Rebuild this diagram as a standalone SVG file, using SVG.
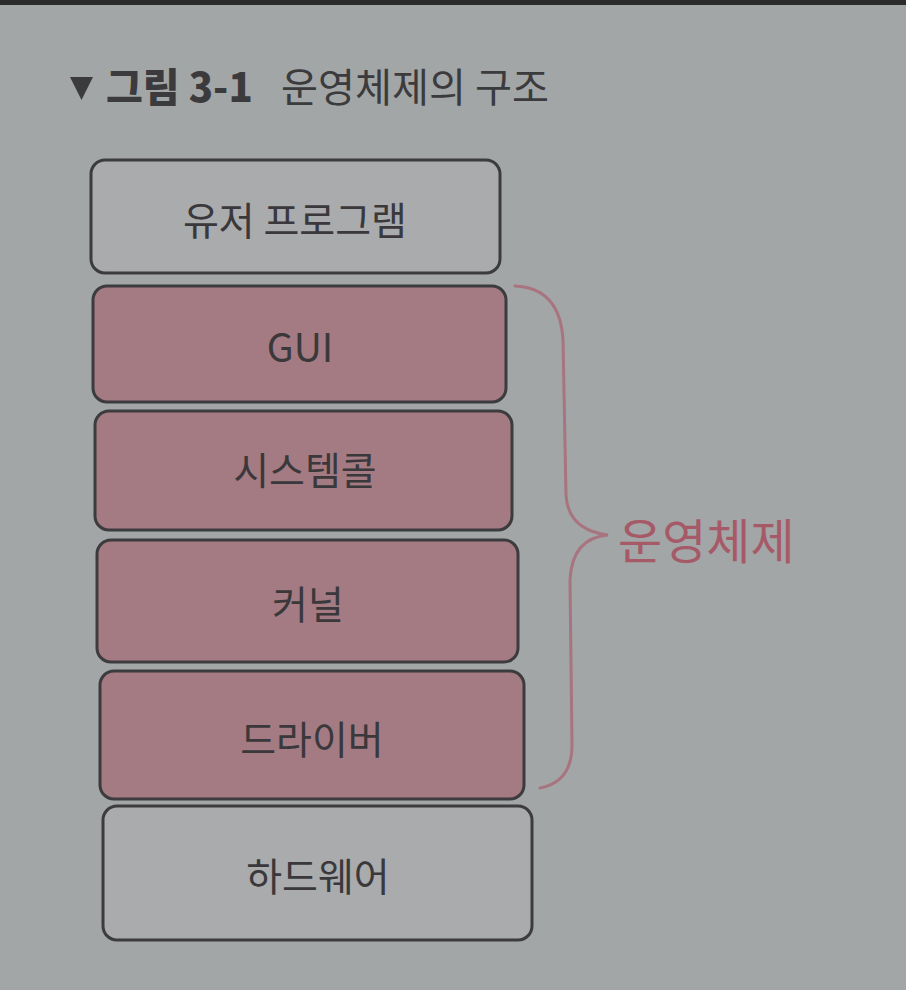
<svg xmlns="http://www.w3.org/2000/svg" width="906" height="990" viewBox="0 0 906 990">
<style>
.box{stroke:#3c3b3e;stroke-width:3}
.gray{fill:#a9abac}
.pink{fill:#a47b82}
.lbl{font-family:"Noto Sans CJK KR","Noto Sans",sans-serif;font-size:39px;fill:#3a383b;text-anchor:middle;dominant-baseline:central}
.title{font-family:"Noto Sans CJK KR","Noto Sans",sans-serif;font-size:40px;fill:#3b3b3d}
</style>
<rect x="0" y="0" width="906" height="990" fill="#a3a6a7"/>
<rect x="0" y="0" width="906" height="5" fill="#2b2b2b"/>
<g id="title">
<polygon points="70,77 93,77 81.5,100" fill="#3b3b3d"/>
<text x="106" y="102" class="title" font-weight="900">그림 3-1</text>
<text x="281" y="102" class="title" textLength="268" lengthAdjust="spacingAndGlyphs">운영체제의 구조</text>
</g>
<g id="user-program">
<rect class="box gray" x="91" y="160" width="409" height="113" rx="14"/>
<text class="lbl" x="295" y="218">유저 프로그램</text>
</g>
<g id="gui">
<rect class="box pink" x="93" y="286" width="413" height="116" rx="14"/>
<text class="lbl" x="300" y="345">GUI</text>
</g>
<g id="syscall">
<rect class="box pink" x="95" y="411" width="417" height="119" rx="14"/>
<text class="lbl" x="305" y="468">시스템콜</text>
</g>
<g id="kernel">
<rect class="box pink" x="97" y="540" width="421" height="122" rx="14"/>
<text class="lbl" x="308" y="602">커널</text>
</g>
<g id="driver">
<rect class="box pink" x="100" y="671" width="424" height="128" rx="14"/>
<text class="lbl" x="312" y="737">드라이버</text>
</g>
<g id="hardware">
<rect class="box gray" x="103" y="806" width="429" height="134" rx="14"/>
<text class="lbl" x="318" y="874">하드웨어</text>
</g>
<g id="connectors">
<path d="M 515 286 Q 560 288 563 340 L 566 495 Q 568 530 608 535 Q 572 538 570 580 L 572 745 Q 572 782 540 788" fill="none" stroke="#a87480" stroke-width="3" stroke-linecap="round"/>
</g>
<g id="os-label">
<text x="618" y="538" font-family="'Noto Sans CJK KR','Noto Sans',sans-serif" font-size="48" fill="#a65a68" dominant-baseline="central">운영체제</text>
</g>
</svg>
